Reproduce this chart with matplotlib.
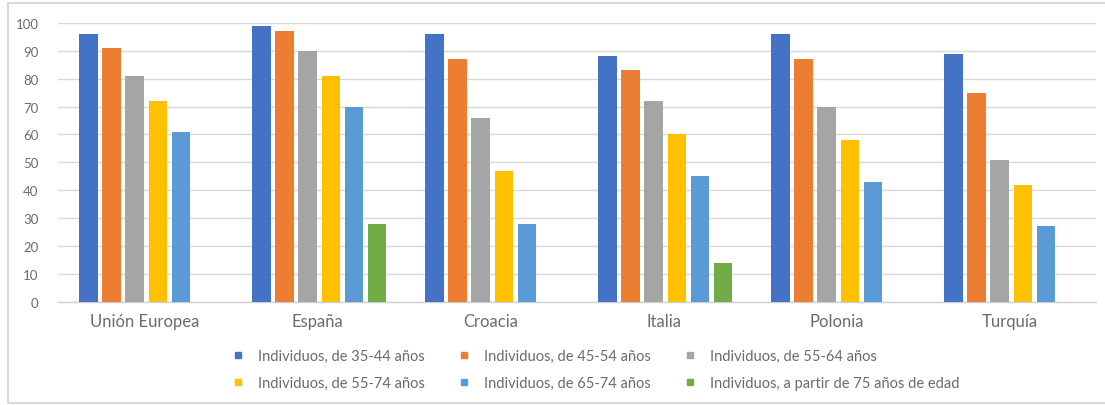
import matplotlib.pyplot as plt
import numpy as np
from matplotlib.lines import Line2D
from matplotlib.patches import Rectangle

plt.rcParams['font.family'] = ['Lato', 'DejaVu Sans']

paises = ["Unión Europea", "España", "Croacia", "Italia", "Polonia", "Turquía"]

series = [
    "Individuos, de 35-44 años",
    "Individuos, de 45-54 años",
    "Individuos, de 55-64 años",
    "Individuos, de 55-74 años",
    "Individuos, de 65-74 años",
    "Individuos, a partir de 75 años de edad",
]

# porcentaje por grupo de edad (nan = sin dato)
v_35_44 = [96, 99, 96, 88, 96, 89]
v_45_54 = [91, 97, 87, 83, 87, 75]
v_55_64 = [81, 90, 66, 72, 70, 51]
v_55_74 = [72, 81, 47, 60, 58, 42]
v_65_74 = [61, 70, 28, 45, 43, 27]
v_75 = [np.nan, 28, np.nan, 14, np.nan, np.nan]

valores = [v_35_44, v_45_54, v_55_64, v_55_74, v_65_74, v_75]
colores = ["#4472C4", "#ED7D31", "#A5A5A5", "#FFC000", "#5B9BD5", "#70AD47"]

gris_texto = "#6b6b6b"

fig = plt.figure(figsize=(11.05, 4.06), dpi=100)
ax = fig.add_axes([0.0525, 0.2544, 0.9394, 0.6865])

x = np.arange(len(paises))
paso = 0.1335
ancho = 0.107
for j, (vals, c) in enumerate(zip(valores, colores)):
    ax.bar(x + 0.01 + (j - 2.5) * paso, vals, width=ancho, color=c, label=series[j], zorder=3)

ax.set_xlim(-0.5, len(paises) - 0.5)
ax.set_ylim(0, 100)
ax.set_yticks(range(0, 101, 10))
ax.set_xticks(x)
ax.set_xticklabels(paises, fontsize=12, color=gris_texto)
ax.tick_params(axis='y', labelsize=9.5, labelcolor=gris_texto, length=0, pad=14)
ax.tick_params(axis='x', length=0, pad=8)
ax.grid(axis='y', color="#d9d9d9", linewidth=1, zorder=0)
for s in ['top', 'right', 'left']:
    ax.spines[s].set_visible(False)
ax.spines['bottom'].set_color("#d0d0d0")
ax.spines['bottom'].set_linewidth(1)

# leyenda en dos filas, orden por filas
handles = [Line2D([], [], marker='s', linestyle='', color=c, markersize=5) for c in colores]
orden = [0, 3, 1, 4, 2, 5]
fig.legend([handles[i] for i in orden], [series[i] for i in orden],
           ncol=3, loc='center', bbox_to_anchor=(0.540, 0.0874),
           frameon=False, fontsize=10.5, labelcolor=gris_texto,
           handlelength=0.6, handletextpad=1.07, columnspacing=2.37,
           labelspacing=0.9)

# marco del gráfico
fig.patches.append(Rectangle((8 / 1105, 2 / 406), 1.2, 400 / 406, transform=fig.transFigure,
                             fill=False, edgecolor="#d9d9d9", linewidth=1.5))

fig.savefig("out.png", dpi=100)
